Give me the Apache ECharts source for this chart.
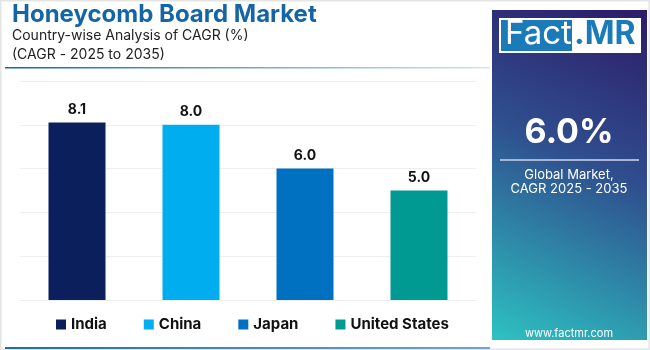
<!DOCTYPE html>
<html>
<head>
<meta charset="utf-8">
<script src="https://cdn.jsdelivr.net/npm/echarts@6/dist/echarts.min.js"></script>
<style>
  html, body { margin: 0; padding: 0; background: #fff; }
  #main { width: 650px; height: 350px; }
</style>
</head>
<body>
<div id="main"></div>
<script>
// chart data
var countries = ["India", "China", "Japan", "United States"];
var cagr = [8.1, 8.0, 6.0, 5.0];
var barColors = ["#0b1f5c", "#00aeef", "#0070c0", "#009a93"];
var globalCagr = "6.0%";

var chart = echarts.init(document.getElementById("main"));
var font = "Inter, 'Open Sans', sans-serif";

// one series per country, stacked so every bar sits in its own slot
var series = countries.map(function (name, i) {
  var vals = countries.map(function (c, j) { return j === i ? cagr[i] : "-"; });
  return {
    name: name,
    type: "bar",
    stack: "all",
    barWidth: "50%",
    data: vals,
    itemStyle: { color: barColors[i] },
    label: {
      show: true,
      position: "top",
      distance: 6,
      formatter: function (p) { return p.value.toFixed(1); },
      color: "#111",
      fontFamily: font,
      fontWeight: "bold",
      fontSize: 14
    }
  };
});

var option = {
  backgroundColor: "#fff",
  animation: false,
  grid: { left: 20, right: 174, top: 81, bottom: 50 },
  xAxis: {
    type: "category",
    data: countries,
    axisLine: { lineStyle: { color: "#eeeeee" } },
    axisTick: { show: false },
    axisLabel: { show: false }
  },
  yAxis: {
    type: "value",
    min: 0,
    max: 10,
    interval: 2,
    axisLabel: { show: false },
    axisLine: { show: false },
    splitLine: { lineStyle: { color: "#eeeeee" } }
  },
  legend: {
    data: countries,
    left: 51,
    top: 312,
    itemWidth: 10,
    itemHeight: 10,
    itemGap: 37,
    icon: "rect",
    textStyle: { color: "#111", fontFamily: font, fontWeight: "bold", fontSize: 15 }
  },
  series: series,
  graphic: [
    // outer frame
    { type: "rect", shape: { x: 0.5, y: 0.5, width: 649, height: 349 }, style: { fill: "none", stroke: "#e4e4e4", lineWidth: 2 }, silent: true },
    // title block
    { type: "text", left: 12, top: 3, style: { text: "Honeycomb Board Market", fill: "#1565a6", font: "bold 24px " + font } },
    { type: "text", left: 12, top: 29, style: { text: "Country-wise Analysis of CAGR (%)", fill: "#222", font: "14px " + font } },
    { type: "text", left: 12, top: 48, style: { text: "(CAGR - 2025 to 2035)", fill: "#222", font: "14px " + font } },
    { type: "rect", shape: { x: 5, y: 67, width: 485, height: 1.5 }, style: { fill: new echarts.graphic.LinearGradient(0, 0, 1, 0, [{ offset: 0, color: "#1565a6" }, { offset: 1, color: "#d6e4ef" }]) } },
    { type: "rect", shape: { x: 5, y: 347, width: 485, height: 2 }, style: { fill: new echarts.graphic.LinearGradient(0, 0, 1, 0, [{ offset: 0, color: "#1f6fa8" }, { offset: 1, color: "#6fa6cf" }]) } },
    // right side panel
    { type: "rect", shape: { x: 492, y: 10, width: 155, height: 330 },
      style: { fill: new echarts.graphic.LinearGradient(1, 0, 0, 1, [{ offset: 0, color: "#2d1a68" }, { offset: 0.45, color: "#2f4f8e" }, { offset: 1, color: "#2dc2c2" }]) } },
    { type: "rect", shape: { x: 499, y: 18, width: 142, height: 35 }, style: { fill: "#ffffff" } },
    { type: "rect", shape: { x: 501, y: 20, width: 71, height: 31 }, style: { fill: "#1a7bb8" } },
    { type: "text", left: 505, top: 18, style: { text: "Fact", fill: "#fff", font: "33px " + font } },
    { type: "text", left: 574, top: 18, style: { text: ".MR", fill: "#1a7bb8", font: "bold 32px " + font } },
    { type: "text", x: 569, y: 133, style: { text: globalCagr, fill: "#fff", font: "bold 34px " + font, align: "center", verticalAlign: "middle" } },
    { type: "rect", shape: { x: 500, y: 159, width: 139, height: 2 }, style: { fill: "#a9b4d3" } },
    { type: "text", x: 569, y: 175, style: { text: "Global Market,", fill: "#fff", font: "13px " + font, align: "center", verticalAlign: "middle" } },
    { type: "text", x: 569, y: 189, style: { text: "CAGR 2025 - 2035", fill: "#fff", font: "13px " + font, align: "center", verticalAlign: "middle" } },
    { type: "text", x: 569, y: 334, style: { text: "www.factmr.com", fill: "#fff", font: "11px " + font, align: "center", verticalAlign: "middle" } }
  ]
};

chart.setOption(option);
</script>
</body>
</html>
